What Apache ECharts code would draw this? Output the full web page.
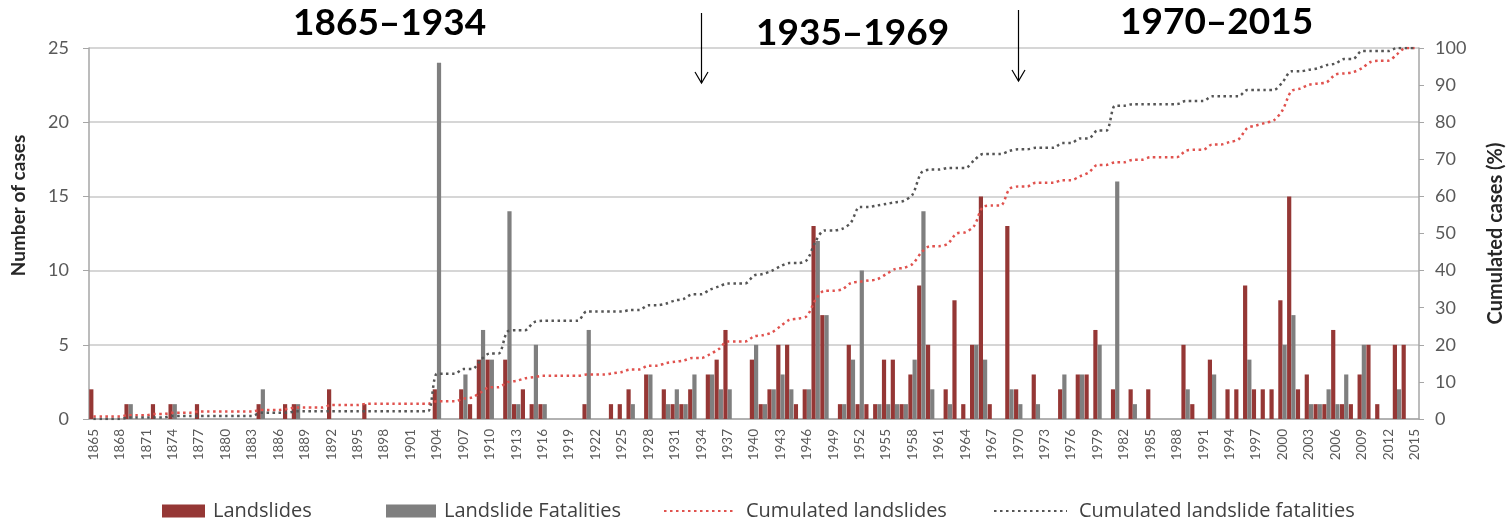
<!DOCTYPE html>
<html>
<head>
<meta charset="utf-8">
<script src="https://cdn.jsdelivr.net/npm/echarts@6/dist/echarts.min.js"></script>
<style>
  html, body { margin: 0; padding: 0; background: #fff; }
  #chart { width: 1510px; height: 521px; }
</style>
</head>
<body>
<div id="chart"></div>
<script>
// Yearly categories, 1865 to 2015
const firstYear = 1865;
const lastYear = 2015;
const years = [];
for (let y = firstYear; y <= lastYear; y++) years.push(String(y));

// Number of landslide events per year (one row per ten years, starting 1865)
const landslides = [
  2, 0, 0, 0, 1, 0, 0, 1, 0, 1,      // 1865-1874
  0, 0, 1, 0, 0, 0, 0, 0, 0, 1,      // 1875-1884
  0, 0, 1, 1, 0, 0, 0, 2, 0, 0,      // 1885-1894
  0, 1, 0, 0, 0, 0, 0, 0, 0, 2,      // 1895-1904
  0, 0, 2, 1, 4, 4, 0, 4, 1, 2,      // 1905-1914
  1, 1, 0, 0, 0, 0, 1, 0, 0, 1,      // 1915-1924
  1, 2, 0, 3, 0, 2, 1, 1, 2, 0,      // 1925-1934
  3, 4, 6, 0, 0, 4, 1, 2, 5, 5,      // 1935-1944
  1, 2, 13, 7, 0, 1, 5, 1, 1, 1,     // 1945-1954
  4, 4, 1, 3, 9, 5, 0, 2, 8, 1,      // 1955-1964
  5, 15, 1, 0, 13, 2, 0, 3, 0, 0,    // 1965-1974
  2, 0, 3, 3, 6, 0, 2, 0, 2, 0,      // 1975-1984
  2, 0, 0, 0, 5, 1, 0, 4, 0, 2,      // 1985-1994
  2, 9, 2, 2, 2, 8, 15, 2, 3, 1,     // 1995-2004
  1, 6, 1, 1, 3, 5, 1, 0, 5, 5,      // 2005-2014
  0                                  // 2015
];

// Number of landslide events with fatalities per year
const fatalities = [
  0, 0, 0, 0, 1, 0, 0, 0, 0, 1,      // 1865-1874
  0, 0, 0, 0, 0, 0, 0, 0, 0, 2,      // 1875-1884
  0, 0, 0, 1, 0, 0, 0, 0, 0, 0,      // 1885-1894
  0, 0, 0, 0, 0, 0, 0, 0, 0, 24,     // 1895-1904
  0, 0, 3, 0, 6, 4, 0, 14, 1, 0,     // 1905-1914
  5, 1, 0, 0, 0, 0, 6, 0, 0, 0,      // 1915-1924
  0, 1, 0, 3, 0, 1, 2, 1, 3, 0,      // 1925-1934
  3, 2, 2, 0, 0, 5, 1, 2, 3, 2,      // 1935-1944
  0, 2, 12, 7, 0, 1, 4, 10, 0, 1,    // 1945-1954
  1, 1, 1, 4, 14, 2, 0, 1, 0, 0,     // 1955-1964
  5, 4, 0, 0, 2, 1, 0, 1, 0, 0,      // 1965-1974
  3, 0, 3, 0, 5, 0, 16, 0, 1, 0,     // 1975-1984
  0, 0, 0, 0, 2, 0, 0, 3, 0, 0,      // 1985-1994
  0, 4, 0, 0, 0, 5, 7, 0, 1, 1,      // 1995-2004
  2, 1, 3, 0, 5, 0, 0, 0, 2, 0,      // 2005-2014
  0                                  // 2015
];

// Period headings and the years where the arrows mark a change of period
const periods = ['1865\u20131934', '1935\u20131969', '1970\u20132015'];
const periodBreaks = ['1934', '1970'];

// Running share (%) of the total count up to and including each year
function cumulatedPercent(values) {
  const total = values.reduce((a, b) => a + b, 0);
  let run = 0;
  return values.map(v => { run += v; return +(run / total * 100).toFixed(2); });
}
const cumLandslides = cumulatedPercent(landslides);
const cumFatalities = cumulatedPercent(fatalities);

const FONT = 'Lato, "Open Sans", sans-serif';
const LEGEND_FONT = '"Open Sans", Lato, sans-serif';
const AXIS_GREY = '#a6a6a6';
const TEXT_GREY = '#595959';

const chart = echarts.init(document.getElementById('chart'), null, { renderer: 'canvas' });

function legendText(gapLeft) {
  return { fontSize: 20, color: '#404040', fontFamily: LEGEND_FONT, padding: [0, 0, 0, gapLeft] };
}
const headingStyle = { fontSize: 37, fontWeight: 'bold', color: '#000', fontFamily: FONT };
// line legends: keep only the dotted stroke, hide the marker in the middle
const hiddenMarker = { opacity: 0 };

chart.setOption({
  animation: false,
  backgroundColor: '#ffffff',
  title: [
    { text: periods[0], left: 293, top: 5, padding: 0, textStyle: headingStyle },
    { text: periods[1], left: 756, top: 15, padding: 0, textStyle: headingStyle },
    { text: periods[2], left: 1120, top: 4, padding: 0, textStyle: headingStyle }
  ],
  legend: [
    { data: ['Landslides'], left: 162, top: 501, padding: 0, icon: 'rect',
      itemWidth: 43, itemHeight: 13, textStyle: legendText(3), selectedMode: false },
    { data: ['Landslide Fatalities'], left: 386, top: 501, padding: 0, icon: 'rect',
      itemWidth: 50, itemHeight: 13, textStyle: legendText(3), selectedMode: false },
    { data: ['Cumulated landslides'], left: 663, top: 501, padding: 0,
      itemWidth: 71, itemHeight: 13, textStyle: legendText(6), selectedMode: false,
      itemStyle: hiddenMarker },
    { data: ['Cumulated landslide fatalities'], left: 993, top: 501, padding: 0,
      itemWidth: 73, itemHeight: 13, textStyle: legendText(7), selectedMode: false,
      itemStyle: hiddenMarker }
  ],
  // fixed plot rectangle; axis texts are allowed to sit outside it
  grid: { left: 89, right: 91, top: 48, bottom: 102, containLabel: false,
    outerBoundsMode: 'none' },
  xAxis: {
    type: 'category',
    data: years,
    boundaryGap: true,
    axisLine: { lineStyle: { color: AXIS_GREY, width: 1.5 } },
    axisTick: { interval: 0, length: 5, lineStyle: { color: AXIS_GREY } },
    axisLabel: { interval: 2, rotate: 90, fontSize: 13.5, color: TEXT_GREY,
      fontFamily: FONT, margin: 10 },
    splitLine: { show: false }
  },
  yAxis: [
    {
      type: 'value', min: 0, max: 25, interval: 5,
      name: 'Number of cases', nameLocation: 'middle', nameGap: 61,
      nameTextStyle: { fontSize: 19, fontWeight: 'bold', color: '#262626',
        fontFamily: FONT, padding: [0, 0, 0, 56] },
      axisLine: { show: true, lineStyle: { color: AXIS_GREY, width: 1.5 } },
      axisTick: { show: true, length: 6, lineStyle: { color: AXIS_GREY } },
      axisLabel: { fontSize: 18, color: TEXT_GREY, fontFamily: FONT, margin: 20 },
      splitLine: { show: true, lineStyle: { color: '#c8c8c8', width: 1.5 } }
    },
    {
      type: 'value', min: 0, max: 100, interval: 10, position: 'right',
      name: 'Cumulated cases (%)', nameLocation: 'middle', nameGap: 67,
      nameTextStyle: { fontSize: 20, fontWeight: 'bold', color: '#262626', fontFamily: FONT },
      axisLine: { show: true, lineStyle: { color: AXIS_GREY, width: 1.5 } },
      axisTick: { show: true, length: 5, lineStyle: { color: AXIS_GREY } },
      axisLabel: { fontSize: 18, color: TEXT_GREY, fontFamily: FONT, margin: 16 },
      splitLine: { show: false }
    }
  ],
  series: [
    {
      name: 'Landslides', type: 'bar', yAxisIndex: 0, data: landslides,
      barWidth: 4.2, barGap: '0%', itemStyle: { color: '#953735' }
    },
    {
      name: 'Landslide Fatalities', type: 'bar', yAxisIndex: 0, data: fatalities,
      barWidth: 4.2, barGap: '0%', itemStyle: { color: '#7f7f7f' }
    },
    {
      name: 'Cumulated landslides', type: 'line', yAxisIndex: 1, data: cumLandslides,
      symbol: 'none', smooth: 0.3, z: 5,
      itemStyle: { color: '#e0524e' },
      lineStyle: { color: '#e0524e', width: 2.5, type: [2.5, 3.5] }
    },
    {
      name: 'Cumulated landslide fatalities', type: 'line', yAxisIndex: 1, data: cumFatalities,
      symbol: 'none', smooth: 0.3, z: 5,
      itemStyle: { color: '#555555' },
      lineStyle: { color: '#555555', width: 2.5, type: [2.5, 3.5] }
    }
  ]
});

// Downward arrows marking the boundaries between periods
const arrowSpans = [[13, 83], [10, 81]];
const arrows = periodBreaks.map((yr, i) => {
  const x = Math.round(chart.convertToPixel({ xAxisIndex: 0 }, yr)) + 0.5;
  const [y0, y1] = arrowSpans[i];
  return {
    type: 'group', silent: true, z: 100,
    children: [
      { type: 'line', shape: { x1: x, y1: y0, x2: x, y2: y1 },
        style: { stroke: '#000', lineWidth: 1.2 } },
      { type: 'polyline', shape: { points: [[x - 6.5, y1 - 11], [x, y1], [x + 6.5, y1 - 11]] },
        style: { stroke: '#000', lineWidth: 1.2, fill: null } }
    ]
  };
});
chart.setOption({ graphic: arrows });
</script>
</body>
</html>
